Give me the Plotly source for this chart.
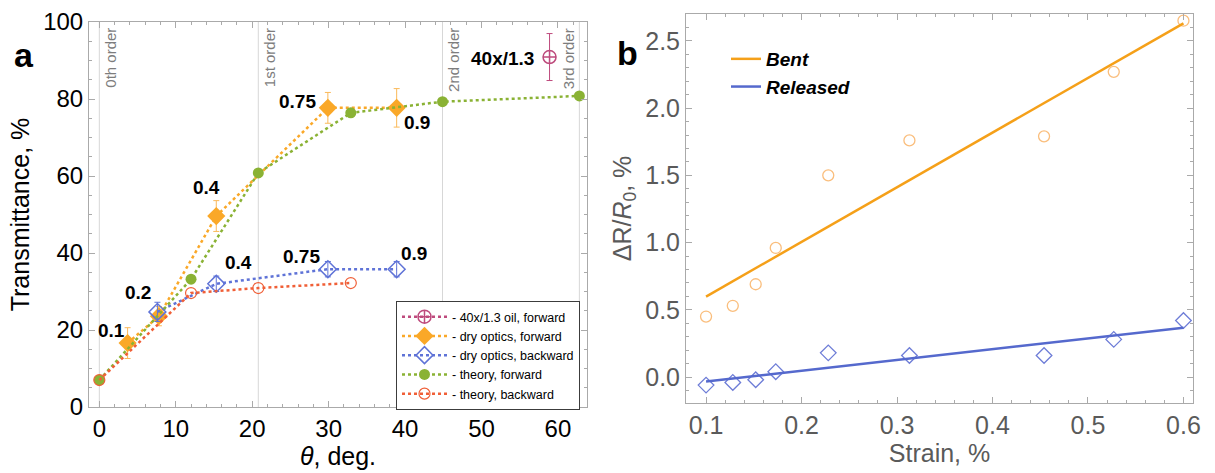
import numpy as np
import plotly.graph_objects as go

# ---------------- Panel a data ----------------
order_x = [0, 20.8, 44.9, 62.8]
order_labels = ["0th order", "1st order", "2nd order", "3rd order"]

oil_x = [58.9]
oil_y = [90.9]
oil_err = [6.1]

dry_fwd_x = [3.7, 7.8, 15.3, 29.9, 38.9]
dry_fwd_y = [16.6, 23.6, 49.6, 77.7, 77.7]
dry_fwd_err = [4.0, 2.5, 4.0, 4.0, 5.0]
dry_fwd_lbl = ["0.1", "0.2", "0.4", "0.75", "0.9"]

dry_bwd_x = [7.6, 15.3, 29.9, 38.9]
dry_bwd_y = [24.7, 32.0, 35.8, 35.8]
dry_bwd_err = [2.5, 2.0, 2.0, 2.0]
dry_bwd_lbl = ["0.4", "0.75", "0.9"]

th_fwd_x = [0, 12.0, 20.8, 32.9, 44.9, 62.8]
th_fwd_y = [7.0, 33.2, 60.8, 76.4, 79.3, 80.8]

th_bwd_x = [0, 12.0, 20.8, 32.9]
th_bwd_y = [7.0, 29.6, 30.9, 32.2]

# ---------------- Panel b data ----------------
strain = [0.1, 0.128, 0.152, 0.173, 0.228, 0.313, 0.454, 0.527, 0.6]
bent = [0.45, 0.53, 0.69, 0.96, 1.50, 1.76, 1.79, 2.27, 2.65]
released = [-0.06, -0.04, -0.02, 0.04, 0.18, 0.16, 0.16, 0.28, 0.42]

C_MAG = "rgb(190,75,125)"
C_ORA = "rgb(250,168,40)"
C_ORA_L = "rgb(250,185,90)"
C_BLU = "rgb(95,115,215)"
C_GRN = "rgb(138,178,52)"
C_RED = "rgb(240,95,55)"

fig = go.Figure()

def err(arr, color):
    return dict(type="data", array=arr, visible=True, color=color, thickness=1, width=3)

fig.add_trace(go.Scatter(x=oil_x, y=oil_y, mode="lines+markers", name="- 40x/1.3 oil, forward",
                         line=dict(color=C_MAG, dash="dot", width=2.5),
                         marker=dict(symbol="circle-cross-open", size=13, color=C_MAG, line=dict(width=1.5)),
                         error_y=err(oil_err, C_MAG), xaxis="x", yaxis="y"))
fig.add_trace(go.Scatter(x=dry_fwd_x, y=dry_fwd_y, mode="lines+markers", name="- dry optics, forward",
                         line=dict(color=C_ORA, dash="dot", width=2.5),
                         marker=dict(symbol="diamond", size=14, color=C_ORA),
                         error_y=err(dry_fwd_err, C_ORA_L), xaxis="x", yaxis="y"))
fig.add_trace(go.Scatter(x=dry_bwd_x, y=dry_bwd_y, mode="lines+markers", name="- dry optics, backward",
                         line=dict(color=C_BLU, dash="dot", width=2.5),
                         marker=dict(symbol="diamond-open", size=13, color=C_BLU, line=dict(width=1.5)),
                         error_y=err(dry_bwd_err, C_BLU), xaxis="x", yaxis="y"))
fig.add_trace(go.Scatter(x=th_fwd_x, y=th_fwd_y, mode="lines+markers", name="- theory, forward",
                         line=dict(color=C_GRN, dash="dot", width=2.5),
                         marker=dict(symbol="circle", size=11, color=C_GRN),
                         xaxis="x", yaxis="y"))
fig.add_trace(go.Scatter(x=th_bwd_x, y=th_bwd_y, mode="lines+markers", name="- theory, backward",
                         line=dict(color=C_RED, dash="dot", width=2.5),
                         marker=dict(symbol="circle-open", size=11, color=C_RED, line=dict(width=1.2)),
                         xaxis="x", yaxis="y"))

# ---------------- panel b traces ----------------
C_BENT_L = "rgb(245,160,25)"
C_BENT_M = "rgb(250,190,125)"
C_REL_L = "rgb(85,105,205)"
C_REL_M = "rgb(110,125,215)"

sx = np.array(strain)
pb = np.polyfit(sx, np.array(bent), 1)
pr = np.polyfit(sx, np.array(released), 1)
fx = np.array([sx.min(), sx.max()])

fig.add_trace(go.Scatter(x=strain, y=bent, mode="markers", showlegend=False,
                         marker=dict(symbol="circle-open", size=11, color=C_BENT_M, line=dict(width=1.3)),
                         xaxis="x2", yaxis="y2"))
fig.add_trace(go.Scatter(x=strain, y=released, mode="markers", showlegend=False,
                         marker=dict(symbol="diamond-open", size=12, color=C_REL_M, line=dict(width=1.3)),
                         xaxis="x2", yaxis="y2"))
fig.add_trace(go.Scatter(x=fx, y=np.polyval(pb, fx), mode="lines", name="<b><i>Bent</i></b>",
                         line=dict(color=C_BENT_L, width=2.5), legend="legend2",
                         xaxis="x2", yaxis="y2"))
fig.add_trace(go.Scatter(x=fx, y=np.polyval(pr, fx), mode="lines", name="<b><i>Released</i></b>",
                         line=dict(color=C_REL_L, width=2.5), legend="legend2",
                         xaxis="x2", yaxis="y2"))

# ---------------- shapes & annotations ----------------
shapes = []
ann = []
for i, (ox, ol) in enumerate(zip(order_x, order_labels)):
    shapes.append(dict(type="line", xref="x", yref="y", x0=ox, x1=ox, y0=0, y1=100,
                       line=dict(color="rgb(215,215,215)", width=1), layer="below"))
    last = i == len(order_x) - 1
    ann.append(dict(x=ox, y=99, xref="x", yref="y", text=ol, textangle=-90, showarrow=False,
                    xanchor="right" if last else "left", yanchor="top", xshift=-1 if last else 1,
                    font=dict(size=15, color="rgb(125,125,125)", family="Liberation Sans")))

bold = dict(size=19, color="black", family="Liberation Sans")
fwd_pos = [("right", "bottom", -1, 0), ("right", "bottom", -6, 11), ("center", "bottom", -10, 16),
           ("right", "bottom", -10, -6), ("left", "top", 5, -2)]
for xv, yv, t, (xa, ya, dx, dy) in zip(dry_fwd_x, dry_fwd_y, dry_fwd_lbl, fwd_pos):
    ann.append(dict(x=xv, y=yv, xref="x", yref="y", text="<b>%s</b>" % t, showarrow=False,
                    xanchor=xa, yanchor=ya, xshift=dx, yshift=dy, font=bold))
bwd_pos = [("left", "bottom", 7, 9), ("right", "bottom", -6, 0), ("left", "bottom", 2, 3)]
for xv, yv, t, (xa, ya, dx, dy) in zip(dry_bwd_x[1:], dry_bwd_y[1:], dry_bwd_lbl, bwd_pos):
    ann.append(dict(x=xv, y=yv, xref="x", yref="y", text="<b>%s</b>" % t, showarrow=False,
                    xanchor=xa, yanchor=ya, xshift=dx, yshift=dy, font=bold))
ann.append(dict(x=oil_x[0], y=oil_y[0], xref="x", yref="y", text="<b>40x/1.3</b>", showarrow=False,
                xanchor="right", yanchor="middle", xshift=-14, yshift=-1, font=bold))

ann.append(dict(x=24 / 1215, y=1 - 55 / 473, xref="paper", yref="paper", text="<b>a</b>", showarrow=False,
                xanchor="center", yanchor="middle", font=dict(size=34, color="black", family="Liberation Sans")))
ann.append(dict(x=627 / 1215, y=1 - 53 / 473, xref="paper", yref="paper", text="<b>b</b>", showarrow=False,
                xanchor="center", yanchor="middle", font=dict(size=34, color="black", family="Liberation Sans")))

axis_common = dict(showline=True, mirror="ticks", linecolor="rgb(170,170,170)", linewidth=1,
                   ticks="inside", ticklen=6, tickcolor="rgb(170,170,170)", showgrid=False, zeroline=False,
                   automargin=False)

fig.update_layout(
    width=1215, height=473, margin=dict(l=0, r=0, t=0, b=0, autoexpand=False),
    paper_bgcolor="white", plot_bgcolor="white",
    font=dict(family="Liberation Sans"),
    xaxis=dict(domain=[89 / 1215, 587 / 1215], range=[-1.35, 63.8], tickvals=[0, 10, 20, 30, 40, 50, 60],
               minor=dict(dtick=2, ticks="inside", ticklen=3, tickcolor="rgb(170,170,170)"),
               tickfont=dict(size=24, color="black"),
               title=dict(text="<i>θ</i>, deg.", font=dict(size=25, color="black"), standoff=4),
               anchor="y", **axis_common),
    yaxis=dict(domain=[1 - 407 / 473, 1 - 22 / 473], range=[0, 100], tickvals=[0, 20, 40, 60, 80, 100],
               minor=dict(dtick=5, ticks="inside", ticklen=3, tickcolor="rgb(170,170,170)"),
               tickfont=dict(size=24, color="black"),
               title=dict(text="Transmittance, %", font=dict(size=25, color="black"), standoff=6),
               anchor="x", **axis_common),
    xaxis2=dict(domain=[686 / 1215, 1193 / 1215], range=[0.079, 0.61], tickvals=[0.1, 0.2, 0.3, 0.4, 0.5, 0.6],
                minor=dict(dtick=0.02, ticks="inside", ticklen=3, tickcolor="rgb(170,170,170)"),
                tickfont=dict(size=25, color="rgb(90,90,90)"),
                title=dict(text="Strain, %", font=dict(size=25, color="rgb(90,90,90)"), standoff=4),
                anchor="y2", **axis_common),
    yaxis2=dict(domain=[1 - 403 / 473, 1 - 14 / 473], range=[-0.193, 2.7],
                tickvals=[0.0, 0.5, 1.0, 1.5, 2.0, 2.5], ticktext=["0.0", "0.5", "1.0", "1.5", "2.0", "2.5"],
                minor=dict(dtick=0.1, ticks="inside", ticklen=3, tickcolor="rgb(170,170,170)"),
                tickfont=dict(size=25, color="rgb(90,90,90)"),
                title=dict(text="ΔR/<i>R</i><sub>0</sub>, %", font=dict(size=25, color="rgb(90,90,90)"), standoff=6),
                anchor="x2", **axis_common),
    legend=dict(x=396 / 1215, y=1 - 301 / 473, xanchor="left", yanchor="top",
                bgcolor="white", bordercolor="rgb(60,60,60)", borderwidth=1,
                font=dict(size=12.5, color="black"), itemwidth=45, tracegroupgap=0),
    legend2=dict(x=726 / 1215, y=1 - 40 / 473, xanchor="left", yanchor="top",
                 bgcolor="rgba(0,0,0,0)", borderwidth=0,
                 font=dict(size=19, color="black"), itemwidth=30),
    shapes=shapes, annotations=ann,
)

fig.write_html("out.html", config={"displayModeBar": False},
               post_script="document.body.style.margin='0px';document.body.style.padding='0px';document.body.style.overflow='hidden';")
